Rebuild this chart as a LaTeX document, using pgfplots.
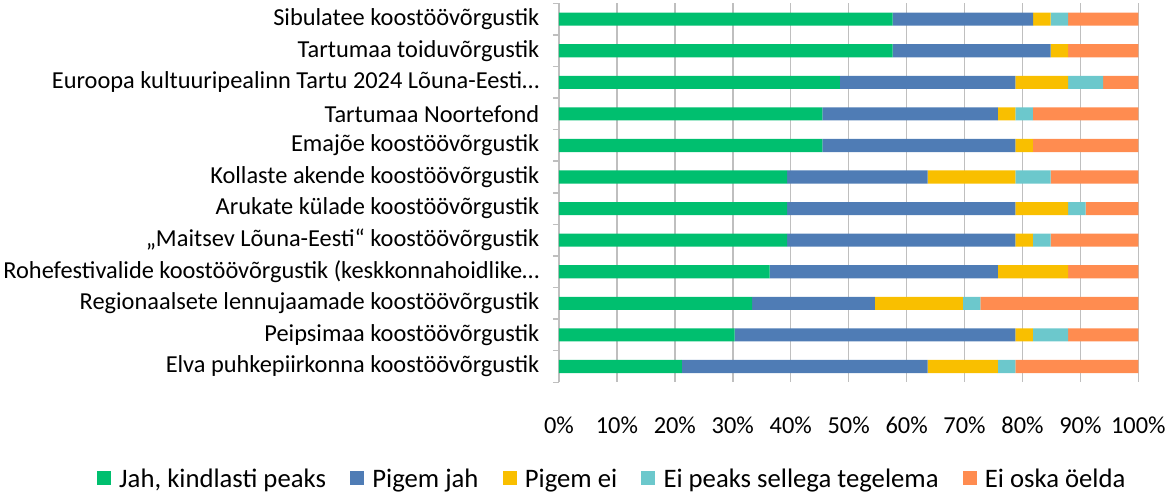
\documentclass[border=0pt]{standalone}
\usepackage{pgfplots}
\pgfplotsset{compat=1.18}
\usepackage{pgfplotstable}
\usepackage{fontspec}
\setmainfont{Carlito}
\definecolor{cg}{RGB}{0,191,111}
\definecolor{cb}{RGB}{79,124,181}
\definecolor{cy}{RGB}{249,191,0}
\definecolor{cc}{RGB}{108,200,204}
\definecolor{co}{RGB}{255,140,80}
\definecolor{gridc}{RGB}{191,191,191}
\pgfplotstableread{
y  g      b      ye     c     o
0  57.58  24.24  3.03   3.03  12.12
1  57.58  27.27  3.03   0     12.12
2  48.48  30.30  9.09   6.06  6.06
3  45.45  30.30  3.03   3.03  18.18
4  45.45  33.33  3.03   0     18.18
5  39.39  24.24  15.15  6.06  15.15
6  39.39  39.39  9.09   3.03  9.09
7  39.39  39.39  3.03   3.03  15.15
8  36.36  39.39  12.12  0     12.12
9  33.33  21.21  15.15  3.03  27.27
10 30.30  48.48  3.03   6.06  12.12
11 21.21  42.42  12.12  3.03  21.21
}\data
\begin{document}
\begin{tikzpicture}
\begin{axis}[
  scale only axis,
  width=575pt, height=376pt,
  xbar stacked,
  bar width=13pt,
  xmin=0, xmax=100,
  ymin=-0.5, ymax=11.5,
  y dir=reverse,
  xtick={0,10,...,100},
  xticklabel={\pgfmathprintnumber{\tick}\%},
  /pgf/number format/assume math mode=true,
  ytick={0,...,11},
  yticklabels={Sibulatee koostöövõrgustik,Tartumaa toiduvõrgustik,Euroopa kultuuripealinn Tartu 2024 Lõuna-Eesti…,Tartumaa Noortefond,Emajõe koostöövõrgustik,Kollaste akende koostöövõrgustik,Arukate külade koostöövõrgustik,„Maitsev Lõuna-Eesti“ koostöövõrgustik,Rohefestivalide koostöövõrgustik (keskkonnahoidlike…,Regionaalsete lennujaamade koostöövõrgustik,Peipsimaa koostöövõrgustik,Elva puhkepiirkonna koostöövõrgustik},
  major tick length=0pt,
  extra y ticks={-0.5,0.5,...,11.5},
  extra y tick labels={},
  extra y tick style={major tick length=6pt, tick align=outside, tick style={gridc, line width=1.5pt}, ymajorgrids=false},
  xmajorgrids,
  grid style={gridc, line width=1.5pt},
  x axis line style={draw=none},
  y axis line style={gridc, line width=1.5pt},
  axis x line*=bottom,
  axis y line*=left,
  tick label style={font=\fontsize{24.2}{27}\selectfont, text=black},
  yticklabel style={xshift=-16pt},
  xticklabel style={yshift=-31pt},
  legend style={font=\fontsize{26.5}{29}\selectfont, draw=none, at={(0.092,-0.255)}, anchor=center, legend columns=5,
    /tikz/every even column/.append style={column sep=22pt},
    /tikz/every odd column/.append style={column sep=6pt}},
  legend image code/.code={\fill[#1,draw=none] (0pt,-6pt) rectangle (14pt,8pt);},
  legend cell align=left,
]
\addplot[fill=cg, draw=none] table[x=g, y=y] {\data};
\addplot[fill=cb, draw=none] table[x=b, y=y] {\data};
\addplot[fill=cy, draw=none] table[x=ye, y=y] {\data};
\addplot[fill=cc, draw=none] table[x=c, y=y] {\data};
\addplot[fill=co, draw=none] table[x=o, y=y] {\data};
\legend{{Jah, kindlasti peaks},Pigem jah,Pigem ei,Ei peaks sellega tegelema,Ei oska öelda}
\end{axis}
\end{tikzpicture}
\end{document}
